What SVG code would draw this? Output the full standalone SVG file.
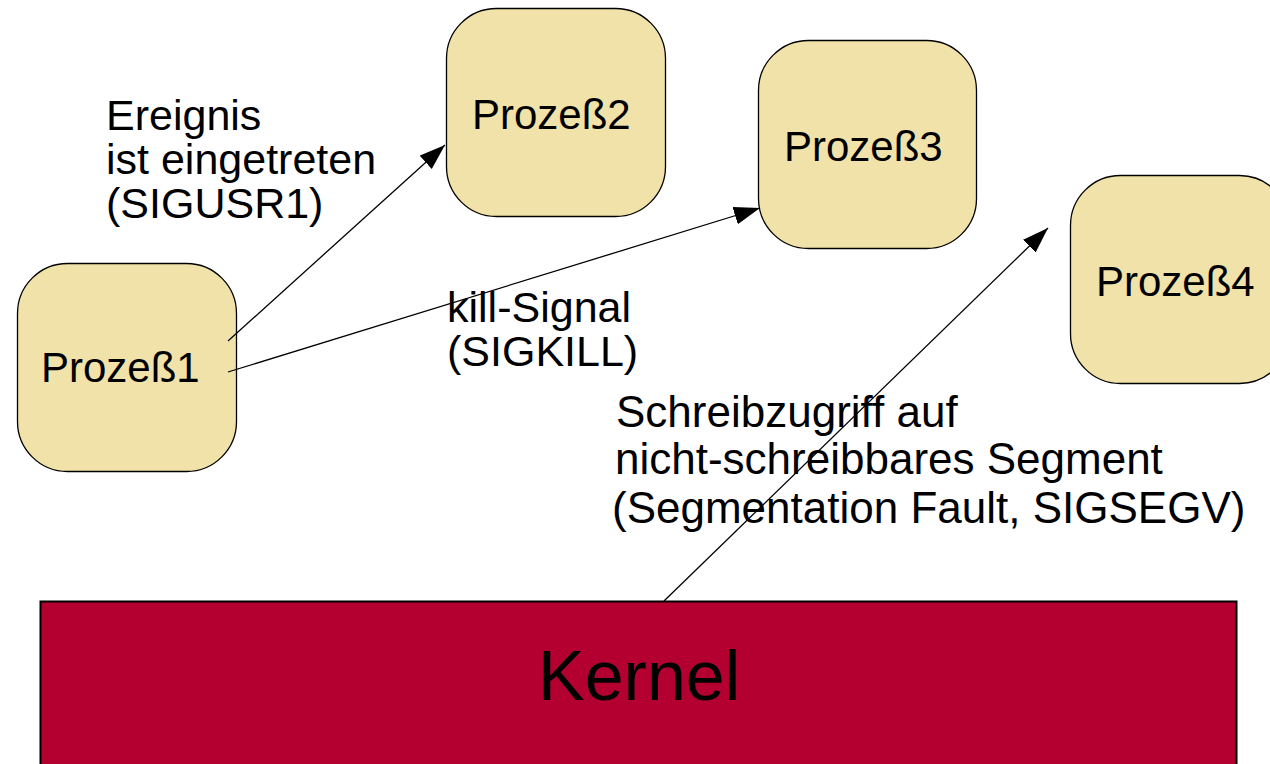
<svg xmlns="http://www.w3.org/2000/svg" width="1270" height="764" viewBox="0 0 1270 764">
<style>
.box{fill:#f0e2a8;stroke:#000;stroke-width:1.3}
.kern{fill:#b30030;stroke:#000;stroke-width:2}
.t{font-family:"Liberation Sans",Arial,sans-serif;font-size:43px;fill:#000}
.p{font-family:"Liberation Sans",Arial,sans-serif;font-size:42px;fill:#000}
.s{font-family:"Liberation Sans",Arial,sans-serif;font-size:44px;fill:#000}
.k{font-family:"Liberation Sans",Arial,sans-serif;font-size:70px;fill:#000}
.c{stroke:#000;stroke-width:1.3;fill:none}
</style>
<defs>
<marker id="ah" markerUnits="userSpaceOnUse" markerWidth="28" markerHeight="20" refX="26" refY="9" orient="auto">
<path d="M0,0 L26,9 L0,18 Z" fill="#000"/>
</marker>
</defs>
<g id="kernel">
<rect class="kern" x="40.5" y="601.5" width="1196" height="170"/>
<text class="k" x="538" y="700">Kernel</text>
</g>
<g id="p1">
<rect class="box" x="17.5" y="263.5" width="219" height="208" rx="50" ry="50"/>
<text class="p" x="41" y="382">Prozeß1</text>
</g>
<g id="p2">
<rect class="box" x="446.5" y="8.5" width="219" height="208" rx="50" ry="50"/>
<text class="p" x="472" y="129">Prozeß2</text>
</g>
<g id="p3">
<rect class="box" x="758.5" y="40.5" width="218" height="208" rx="50" ry="50"/>
<text class="p" x="784" y="161">Prozeß3</text>
</g>
<g id="p4">
<rect class="box" x="1070.5" y="175.5" width="219" height="208" rx="50" ry="50"/>
<text class="p" x="1096" y="296">Prozeß4</text>
</g>
<g id="connectors">
<line class="c" x1="228" y1="341" x2="445" y2="145" marker-end="url(#ah)"/>
<line class="c" x1="228" y1="372" x2="760" y2="208" marker-end="url(#ah)"/>
<line class="c" x1="664" y1="601" x2="1048" y2="228" marker-end="url(#ah)"/>
</g>
<g id="labels">
<text class="t" x="106" y="130">Ereignis</text>
<text class="t" x="106" y="174">ist eingetreten</text>
<text class="t" x="106" y="218">(SIGUSR1)</text>
<text class="t" x="447" y="322">kill-Signal</text>
<text class="t" x="447" y="366">(SIGKILL)</text>
<text class="s" x="616" y="427">Schreibzugriff auf</text>
<text class="s" x="615" y="474">nicht-schreibbares Segment</text>
<text class="s" x="612" y="523">(Segmentation Fault, SIGSEGV)</text>
</g>
</svg>
